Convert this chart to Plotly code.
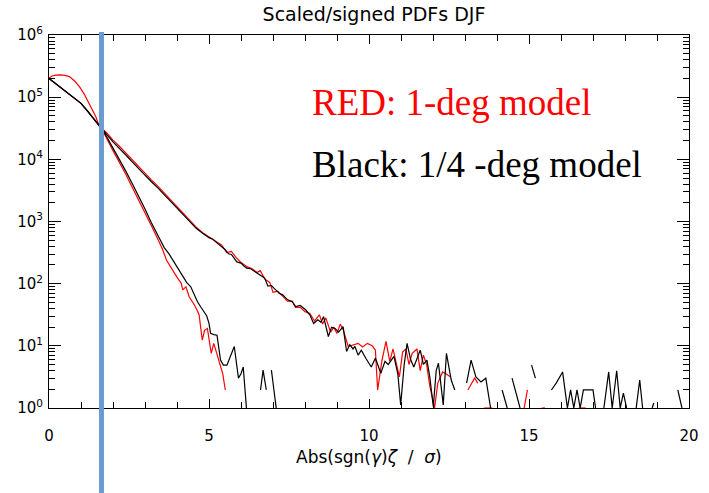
import plotly.graph_objects as go

# ---- data (log10 of PDF values; None = empty bin / gap) ----
black_wide_x = [0, 0.2, 0.4, 0.6, 0.8, 1.0, 1.2, 1.4, 1.6, 1.8, 2.0, 2.2, 2.4, 2.6, 2.8, 3.0, 3.2, 3.4, 3.6, 3.8,
                4.0, 4.2, 4.4, 4.6, 4.8, 5.0, 5.1, 5.25, 5.4, 5.5, 5.61, 5.7, 5.87, 6.0, 6.1, 6.18, 6.3, 6.43, 6.55,
                6.65, 6.74, 6.84, 6.95, 7.05, 7.2, 7.3, 7.46, 7.6, 7.71, 7.85, 8.02, 8.15, 8.27, 8.4, 8.5, 8.58,
                8.73, 8.83, 8.94, 9.05, 9.19, 9.3, 9.4, 9.5, 9.56, 9.66, 9.76, 9.9, 10.07, 10.2, 10.37, 10.5, 10.6,
                10.78, 10.9, 10.99, 11.1, 11.19, 11.3, 11.4, 11.5, 11.6, 11.7, 11.81, 11.9, 12.01, 12.1, 12.17,
                12.32, 12.42, 12.57, 12.68, 12.8, 13.05, 13.19, 13.34, 13.5, 13.65, 13.8, 13.9, 14.16, 14.32, 14.4,
                14.47, 14.72, 14.8, 15.08, 15.2, 15.3, 15.7, 15.85, 16.05, 16.2, 16.3, 16.4, 16.5, 16.6, 16.7, 16.8,
                16.9, 17.0, 17.08, 17.2, 17.34, 17.49, 17.6, 17.74, 17.85, 17.95, 18.05, 18.2, 18.35, 18.46, 18.55,
                18.7, 18.85, 18.9, 19.0, 19.65, 19.78]
black_wide_log = [5.30, 5.22, 5.14, 5.07, 4.99, 4.90, 4.78, 4.65, 4.52, 4.40, 4.28, 4.18, 4.07, 3.96, 3.85, 3.75,
                  3.64, 3.54, 3.43, 3.32, 3.21, 3.10, 2.99, 2.89, 2.81, 2.74, 2.72, 2.66, 2.60, 2.55, 2.48, 2.47,
                  2.35, 2.33, 2.28, 2.25, 2.24, 2.19, 2.15, 2.12, 2.09, 1.96, 1.97, 1.92, 1.84, 1.82, 1.74, 1.71,
                  1.63, 1.65, 1.58, 1.50, 1.36, 1.42, 1.38, 1.47, 1.15, 1.30, 1.28, 1.22, 1.31, 0.91, 1.02, 0.95,
                  0.99, 0.85, 0.93, 0.80, 0.66, 0.80, 0.56, 0.75, 0.70, 0.83, 0.55, 0.05, 0.70, 1.04, 0.78, 0.66,
                  0.78, 0.93, 0.70, 0.77, 0.50, 0.02, 0.60, 0.72, 0.05, 0.88, 0.45, 0.29, None, 0.40, 0.77, 0.50,
                  0.42, 0.48, 0.0, None, 0.29, 0.0, None, 0.48, 0.0, None, 0.69, 0.48, None, 0.29, 0.40, 0.58, 0.0,
                  0.29, 0.0, 0.29, 0.0, 0.29, 0.29, 0.29, 0.29, 0.0, None, 0.0, 0.58, 0.0, 0.60, 0.0, 0.24, 0.0,
                  None, 0.0, 0.45, 0.0, None, 0.0, 0.08, None, 0.29, 0.0]

red_wide_x = [0, 0.2, 0.4, 0.6, 0.8, 1.0, 1.2, 1.4, 1.6, 1.8, 2.0, 2.2, 2.4, 2.6, 2.8, 3.0, 3.2, 3.4, 3.6, 3.8, 4.0,
              4.2, 4.4, 4.6, 4.8, 5.0, 5.2, 5.4, 5.55, 5.7, 5.85, 6.0, 6.2, 6.35, 6.5, 6.6, 6.75, 6.9, 7.0, 7.15,
              7.3, 7.45, 7.6, 7.7, 7.85, 8.0, 8.15, 8.3, 8.45, 8.55, 8.65, 8.8, 8.9, 9.0, 9.1, 9.2, 9.35, 9.5,
              9.66, 9.8, 9.95, 10.1, 10.2, 10.27, 10.4, 10.53, 10.65, 10.75, 10.85, 10.95, 11.05, 11.15, 11.25,
              11.35, 11.5, 11.6, 11.7, 11.8, 11.9, 12.05, 12.15, 12.3, 12.4, 12.55, 12.8, 13.09, 13.3, 13.4, 13.5,
              13.6, 13.85, 14.0, 14.85, 14.95, 15.1, 15.4, 15.5, 15.6, 16.55, 16.77]
red_wide_log = [5.30, 5.22, 5.14, 5.07, 4.99, 4.90, 4.78, 4.65, 4.52, 4.43, 4.31, 4.21, 4.10, 3.99, 3.88, 3.78,
                3.67, 3.57, 3.46, 3.35, 3.24, 3.13, 3.02, 2.91, 2.82, 2.75, 2.69, 2.62, 2.50, 2.52, 2.42, 2.34,
                2.27, 2.24, 2.18, 2.21, 2.07, 2.02, 1.86, 1.88, 1.80, 1.72, 1.72, 1.62, 1.62, 1.55, 1.52, 1.40,
                1.50, 1.35, 1.45, 1.22, 1.30, 1.20, 1.35, 1.25, 0.99, 1.02, 1.04, 0.98, 1.04, 1.00, 0.93, 0.29,
                0.75, 1.07, 0.75, 0.95, 0.70, 0.50, 0.90, 0.95, 0.70, 0.88, 0.95, 0.60, 0.85, 0.70, 0.35, 0.0,
                0.40, 0.58, 0.55, 0.50, None, 0.29, 0.48, 0.40, None, 0.0, 0.0, None, 0.0, 0.29, None, 0.0, 0.0,
                None, 0.0, 0.0]

black_narrow_x = [0, 0.2, 0.4, 0.6, 0.8, 1.0, 1.2, 1.4, 1.6, 1.72, 2.0, 2.2, 2.4, 2.6, 2.8, 3.0, 3.2, 3.4, 3.6,
                  3.75, 3.87, 4.0, 4.1, 4.18, 4.3, 4.43, 4.55, 4.64, 4.75, 4.84, 4.93, 5.0, 5.05, 5.15, 5.25, 5.36,
                  5.45, 5.56, 5.68, 5.79, 5.92, 6.0, 6.07, 6.17, 6.4, 6.61, 6.69, 6.79, 6.87, 6.95, 7.1]
black_narrow_log = [5.30, 5.22, 5.14, 5.07, 4.99, 4.90, 4.78, 4.65, 4.52, 4.44, 4.18, 4.00, 3.81, 3.61, 3.41,
                    3.20, 2.98, 2.78, 2.58, 2.48, 2.38, 2.25, 2.18, 2.11, 2.02, 1.95, 1.80, 1.71, 1.62, 1.55,
                    1.48, 1.36, 1.20, 1.18, 1.17, 0.77, 0.69, 0.69, 0.85, 0.99, 0.48, 0.55, 0.66, 0.0, None, 0.29,
                    0.61, 0.29, None, 0.61, 0.0]

red_narrow_x = [0, 0.1, 0.2, 0.34, 0.5, 0.64, 0.8, 0.95, 1.1, 1.26, 1.36, 1.46, 1.56, 1.72, 2.0, 2.2, 2.4, 2.6,
                2.8, 3.0, 3.2, 3.4, 3.55, 3.67, 3.8, 3.92, 4.03, 4.13, 4.18, 4.28, 4.38, 4.46, 4.54, 4.62, 4.69,
                4.79, 4.86, 4.95, 5.07, 5.15, 5.23, 5.34, 5.43, 5.51]
red_narrow_log = [5.31, 5.34, 5.355, 5.36, 5.35, 5.33, 5.26, 5.17, 5.05, 4.90, 4.80, 4.69, 4.55, 4.42, 4.14, 3.96,
                  3.76, 3.55, 3.35, 3.14, 2.93, 2.72, 2.55, 2.38, 2.28, 2.17, 2.08, 2.01, 1.90, 1.95, 1.79, 1.73,
                  1.66, 1.58, 1.50, 1.09, 1.25, 1.28, 0.88, 1.04, 0.91, 0.72, 0.55, 0.29]

marker_line_x = 1.64  # position of the blue vertical marker

y_tick_exponents = [0, 1, 2, 3, 4, 5, 6]
y_tick_text = ["10<sup>%d</sup>" % e for e in y_tick_exponents]
x_tick_vals = [0, 5, 10, 15, 20]

title_text = "Scaled/signed PDFs DJF"
x_title = "Abs(sgn(<i>γ</i>)<i>ζ</i>  /  <i>σ</i>)"
red_label = "RED: 1-deg model"
black_label = "Black: 1/4 -deg model"


def to_vals(logs):
    return [None if v is None else 10 ** v for v in logs]


fig = go.Figure()
line_w = 1.2
fig.add_trace(go.Scatter(x=red_narrow_x, y=to_vals(red_narrow_log), mode="lines",
                         line=dict(color="#ff0000", width=line_w), connectgaps=False))
fig.add_trace(go.Scatter(x=red_wide_x, y=to_vals(red_wide_log), mode="lines",
                         line=dict(color="#ff0000", width=line_w), connectgaps=False))
fig.add_trace(go.Scatter(x=black_narrow_x, y=to_vals(black_narrow_log), mode="lines",
                         line=dict(color="#000000", width=line_w), connectgaps=False))
fig.add_trace(go.Scatter(x=black_wide_x, y=to_vals(black_wide_log), mode="lines",
                         line=dict(color="#000000", width=line_w), connectgaps=False))

sans = "DejaVu Sans, Liberation Sans, sans-serif"
tick_font = dict(family=sans, size=15, color="black")

fig.update_layout(
    width=709, height=493,
    margin=dict(l=49, r=10, t=35, b=85),
    plot_bgcolor="white", paper_bgcolor="white",
    showlegend=False,
    title=dict(text=title_text, x=(49 + 699) / 2 / 709, xanchor="center", y=1 - 14 / 493, yanchor="middle",
               font=dict(family=sans, size=19, color="black")),
    xaxis=dict(range=[0, 20], tickvals=x_tick_vals, ticks="inside", ticklen=9, tickwidth=1, tickcolor="black",
               showline=True, linecolor="black", linewidth=1, mirror="ticks", showgrid=False, zeroline=False,
               tickfont=tick_font, ticklabelstandoff=14,
               minor=dict(dtick=1, ticks="inside", ticklen=6, tickcolor="black", tickwidth=1, showgrid=False)),
    yaxis=dict(type="log", range=[0, 6], tickvals=[10 ** e for e in y_tick_exponents], ticktext=y_tick_text,
               ticks="inside", ticklen=12, tickwidth=1, tickcolor="black",
               showline=True, linecolor="black", linewidth=1, mirror="ticks", showgrid=False, zeroline=False,
               tickfont=tick_font, ticklabelstandoff=2,
               minor=dict(dtick="D1", ticks="inside", ticklen=6, tickcolor="black", tickwidth=1, showgrid=False)),
    annotations=[
        dict(text=x_title, xref="paper", yref="paper", x=0.5, y=-(457 - 408) / 373, xanchor="center",
             yanchor="middle", showarrow=False,
             font=dict(family=sans, size=17, color="black")),
        dict(text=red_label, xref="paper", yref="paper", x=(314 - 49) / 650, y=(408 - 102) / 373,
             xanchor="left", yanchor="middle", showarrow=False,
             font=dict(family="Liberation Serif, Times New Roman, serif", size=37, color="#ff0000")),
        dict(text=black_label, xref="paper", yref="paper", x=(314 - 49) / 650, y=(408 - 164) / 373,
             xanchor="left", yanchor="middle", showarrow=False,
             font=dict(family="Liberation Serif, Times New Roman, serif", size=37, color="black")),
    ],
    shapes=[dict(type="line", xref="x", yref="paper", x0=marker_line_x, x1=marker_line_x,
                 y0=-(493 - 408) / 373, y1=1 + 3 / 373, line=dict(color="#6a9bd1", width=5), layer="above")],
)

fig.write_html("out.html")
